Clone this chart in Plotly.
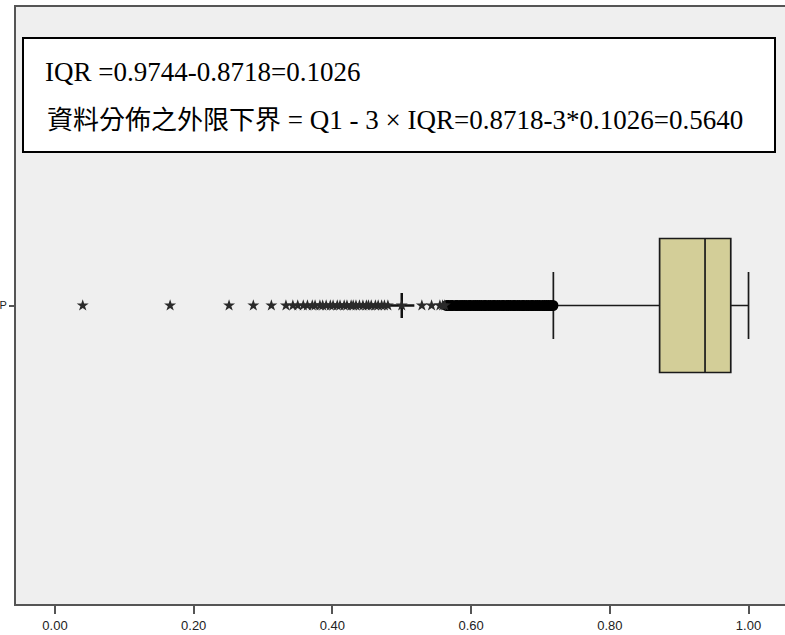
import plotly.graph_objects as go

category = ["P"]

# box statistics
q1 = 0.8718
median = 0.9373
q3 = 0.9744
lower_fence = 0.7186
upper_fence = 1.0

# extreme values (asterisks)
extreme_values = [0.040, 0.166, 0.251, 0.286, 0.312, 0.333,
                  0.343, 0.350, 0.358, 0.364, 0.371, 0.375, 0.382, 0.386,
                  0.391, 0.397, 0.401, 0.407, 0.411, 0.417, 0.421, 0.427,
                  0.430, 0.434, 0.439, 0.444, 0.449, 0.452, 0.456, 0.462,
                  0.466, 0.471, 0.475, 0.480,
                  0.500, 0.529, 0.543, 0.555, 0.559, 0.562]
# stacked cases at 0.50
stacked_values = [0.500]

# outliers (circles)
outlier_values = [0.565, 0.567, 0.571, 0.573, 0.578, 0.580, 0.584, 0.587,
                  0.590, 0.593, 0.597, 0.599, 0.603, 0.606, 0.609, 0.612,
                  0.615, 0.619, 0.621, 0.625, 0.628, 0.632, 0.634, 0.638,
                  0.641, 0.645, 0.647, 0.651, 0.654, 0.657, 0.661, 0.663,
                  0.667, 0.670, 0.674, 0.676, 0.680, 0.683, 0.687, 0.689,
                  0.693, 0.696, 0.699, 0.703, 0.706, 0.709, 0.712, 0.715,
                  0.718]

x_ticks = [0.0, 0.2, 0.4, 0.6, 0.8, 1.0]
x_tick_labels = ["0.00", "0.20", "0.40", "0.60", "0.80", "1.00"]

line1 = "IQR =0.9744-0.8718=0.1026"
line2_cjk = "資料分佈之外限下界"
line2_rest = " = Q1 - 3 × IQR=0.8718-3*0.1026=0.5640"

fig = go.Figure()

fig.add_trace(go.Box(
    y=category, q1=[q1], median=[median], q3=[q3],
    lowerfence=[lower_fence], upperfence=[upper_fence],
    orientation="h", boxpoints=False,
    fillcolor="#D3CE98", line=dict(color="#1a1a1a", width=1.7),
    width=0.2245, whiskerwidth=0.5, showlegend=False, hoverinfo="skip",
))

fig.add_trace(go.Scatter(
    x=outlier_values, y=category * len(outlier_values), mode="markers",
    marker=dict(symbol="circle", size=11, color="#000000"),
    showlegend=False, hoverinfo="skip",
))

fig.add_trace(go.Scatter(
    x=stacked_values, y=category * len(stacked_values), mode="markers",
    marker=dict(symbol="cross-thin", size=18, line=dict(color="#111111", width=2.5)),
    showlegend=False, hoverinfo="skip",
))

fig.add_trace(go.Scatter(
    x=extreme_values, y=category * len(extreme_values), mode="markers",
    marker=dict(symbol="star", size=9, color="#2a2a2a"),
    showlegend=False, hoverinfo="skip",
))

fig.add_shape(type="rect", xref="paper", yref="paper",
              x0=0.0091, x1=0.987, y0=0.757, y1=0.948,
              fillcolor="white", line=dict(color="black", width=2), layer="above")

fig.add_annotation(text=line1, xref="paper", yref="paper", x=0.0351, y=0.891,
                   xanchor="left", yanchor="middle", showarrow=False,
                   font=dict(family="Liberation Serif, Noto Sans CJK TC", size=27, color="black"))
fig.add_annotation(text='<span style="font-size:26px">' + line2_cjk + '</span>' + line2_rest,
                   xref="paper", yref="paper", x=0.038, y=0.811,
                   xanchor="left", yanchor="middle", showarrow=False,
                   font=dict(family="Liberation Serif, Noto Sans CJK TC", size=27, color="black"))

fig.update_layout(
    width=785, height=635,
    margin=dict(l=16, r=0, t=7, b=31, autoexpand=False),
    paper_bgcolor="white", plot_bgcolor="#EFEFEF",
    font=dict(family="Liberation Sans, Arial", size=12, color="#333333"),
    xaxis=dict(range=[-0.0562, 1.0526], tickvals=x_ticks, ticktext=x_tick_labels,
               showgrid=False, zeroline=False, showline=True, mirror=True,
               linecolor="#555555", linewidth=2, ticks="outside", ticklen=8,
               tickwidth=1.5, tickcolor="#555555", automargin=False,
               tickfont=dict(family="Liberation Sans, Arial", size=13, color="#222222")),
    yaxis=dict(type="category", categoryarray=category, range=[-0.5, 0.5],
               showgrid=False, zeroline=False, showline=True, linecolor="#555555",
               linewidth=2, ticks="outside", ticklen=5, tickwidth=1.5,
               tickcolor="#555555", automargin=False,
               tickfont=dict(family="Liberation Sans, Arial", size=11, color="#222222")),
)

fig.write_html("out.html", config={"displayModeBar": False},
               post_script="document.body.style.margin='0';")
